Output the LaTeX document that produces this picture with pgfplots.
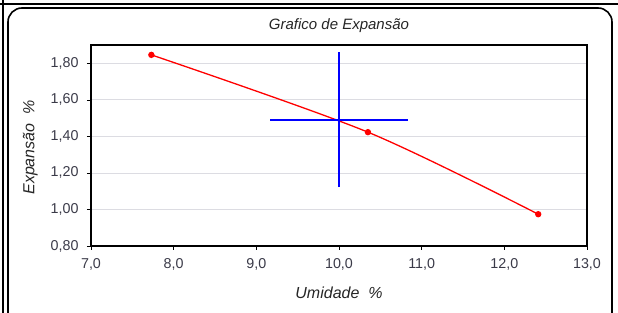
\documentclass[border=0pt]{standalone}
\usepackage{pgfplots}
\pgfplotsset{compat=1.18}
\usepackage{fontspec}
\setmainfont{Liberation Sans}
\definecolor{ticktext}{HTML}{3A3A48}
\begin{document}
\begin{tikzpicture}
\begin{axis}[
  at={(0pt,0pt)}, anchor=south west,
  scale only axis, width=496pt, height=201pt,
  xmin=7, xmax=13, ymin=0.8, ymax=1.9,
  xtick={7,8,...,13},
  ytick={0.8,1.0,1.2,1.4,1.6,1.8},
  axis line style={line width=1.5pt},
  tick style={black, line width=0.6pt},
  tick align=outside, major tick length=4pt,
  xtick pos=bottom, ytick pos=left,
  ymajorgrids, grid style={color=blue!10!gray!25, line width=0.8pt},
  ticklabel style={font=\fontsize{14.3}{16}\selectfont, text=ticktext},
  x tick label style={yshift=-5pt, /pgf/number format/.cd, fixed, fixed zerofill, precision=1, use comma, assume math mode=true},
  y tick label style={xshift=-5pt, /pgf/number format/.cd, fixed, fixed zerofill, precision=2, use comma, assume math mode=true},
  xlabel={\itshape Umidade\ \ \%}, ylabel={\itshape Expansão\ \ \%},
  label style={font=\fontsize{16}{18}\selectfont, text=black!85},
  xlabel style={yshift=-10pt},
  ylabel style={yshift=6pt, xshift=-2pt},
  title={\itshape Grafico de Expansão},
  title style={font=\fontsize{15}{17}\selectfont, text=black!85, yshift=3pt},
  clip=false,
]
\addplot[red, line width=1.3pt, smooth, mark=*, mark size=2.5pt] coordinates {
  (7.73,1.846) (10.35,1.423) (12.41,0.974)
};
\addplot[blue, line width=1.6pt] coordinates {(10.0,1.122) (10.0,1.862)};
\addplot[blue, line width=1.6pt] coordinates {(9.17,1.491) (10.83,1.491)};
\end{axis}
\begin{scope}[shift={(-91pt,-67pt)}, x=1pt, y=1pt]
\path[use as bounding box] (0,0) rectangle (618,313);
\draw[line width=1.6pt] (-5,309) -- (625,309);
\draw[line width=1.2pt] (3,313) -- (3,-5);
\draw[line width=1.6pt, rounded corners=14pt] (8,-20) -- (8,305) -- (612,305) -- (612,-20);
\end{scope}
\end{tikzpicture}
\end{document}
